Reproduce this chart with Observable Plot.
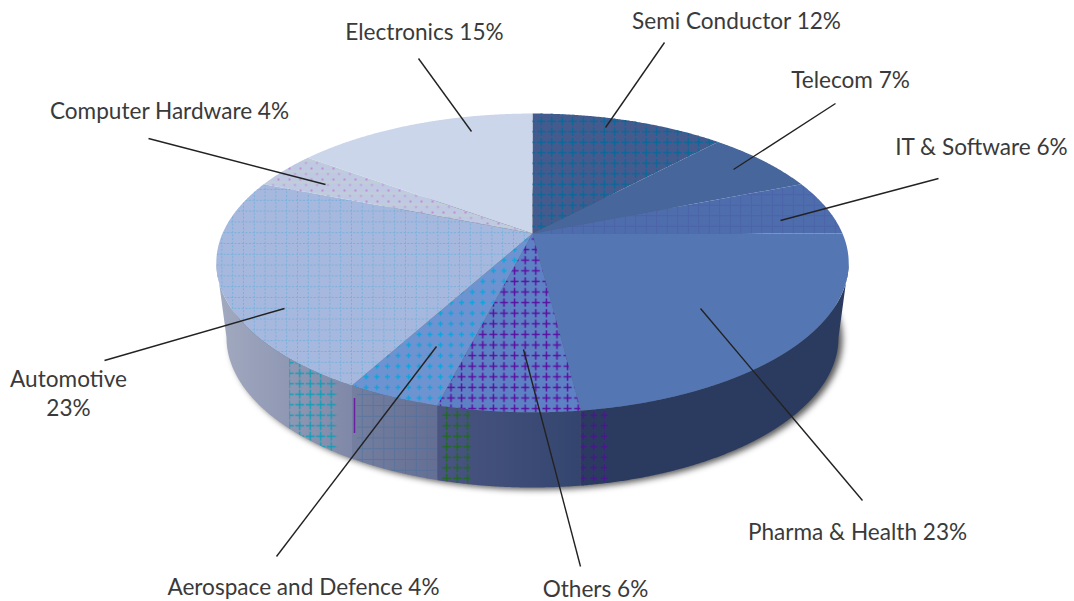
<!DOCTYPE html>
<html>
<head>
<meta charset="utf-8">
<style>html,body{margin:0;background:#fff}svg{display:block}</style>
<script src="https://cdn.jsdelivr.net/npm/d3@7"></script>
<script src="https://cdn.jsdelivr.net/npm/@observablehq/plot@0.6"></script>
</head>
<body>
<div id="chart"></div>
<script>
// Industry shares, clockwise from twelve o'clock
const sectors = ["Semi Conductor", "Telecom", "IT & Software", "Pharma & Health", "Others",
  "Aerospace and Defence", "Automotive", "Computer Hardware", "Electronics"];
const shares = [12, 7, 6, 23, 6, 4, 23, 4, 15];

// Face colours and printed textures for each sector
const faceColors = ["#455b8e", "#47679c", "#4e6dad", "#5477b4", "#5d81c4", "#6d93d1", "#a6b8dd", "#bfc9e1", "#ccd6ea"];
const faceTextures = ["crossTeal", null, "gridIndigo", null, "crossPurple", "dashCyan", "gridCyan", "dotsMagenta", null];
const wallFills = {"Pharma & Health": "#2b3b60", "Others": "url(#wallOthers)",
  "Aerospace and Defence": "url(#wallAero)", "Automotive": "url(#wallAuto)"};

// Texture patches printed on the rim: sector, horizontal extent, texture
const rimPatches = [
  ["Automotive", 288, 338, "crossTealWall"],
  ["Aerospace and Defence", 356, 440, "gridBlueWall"],
  ["Others", 440, 470, "crossGreenWall"],
  ["Pharma & Health", 578, 612, "crossPurpleWall"]
];

// Callouts: leader from slice to label, and label centre
const callouts = [
  {sector: "Semi Conductor", from: [605, 127], to: [664, 42], at: [736, 19], sep: " "},
  {sector: "Telecom", from: [733, 169], to: [835, 103], at: [850, 78], sep: " "},
  {sector: "IT & Software", from: [780, 220], to: [938, 178], at: [981, 145], sep: " "},
  {sector: "Pharma & Health", from: [700, 308], to: [862, 500], at: [857, 530], sep: " "},
  {sector: "Others", from: [523, 349], to: [580, 566], at: [595, 587], sep: " "},
  {sector: "Aerospace and Defence", from: [436, 346], to: [276, 556], at: [303, 585], sep: " "},
  {sector: "Automotive", from: [284, 308], to: [104, 360], at: [68, 392], sep: "\n"},
  {sector: "Computer Hardware", from: [325, 184], to: [148, 138], at: [169, 109], sep: " "},
  {sector: "Electronics", from: [471, 131], to: [418, 58], at: [424, 30], sep: " "}
];

// Perspective disc: the hub sits above the centre of the projected ellipse
const hub = {x: 532, y: 233};
const spreadX = 310, spreadY = 143.6, tilt = 0.197;
const rim = {cx: 532, cy: 337, rx: 306, ry: 150};

function project(deg) {
  const a = deg * Math.PI / 180, X = Math.sin(a), Y = Math.cos(a), d = 1 + tilt * Y;
  return {x: hub.x + spreadX * X / d, y: hub.y - spreadY * Y / d};
}
const sweep = (a0, a1, step = 0.25) => d3.range(a0, a1, step).concat(a1);
const rimY = (x) => rim.cy + rim.ry * Math.sqrt(Math.max(0, 1 - ((x - rim.cx) / rim.rx) ** 2));

const total = d3.sum(shares);
const cumulative = d3.cumsum(shares);
const angles = sectors.map((name, i) => ({
  name,
  a0: (i ? cumulative[i - 1] : 0) / total * 360,
  a1: cumulative[i] / total * 360
}));

// The rim is visible only between the two widest points of the ellipse
const rimStart = 90 + Math.asin(0.194) * 180 / Math.PI, rimEnd = 360 - rimStart;

function wall(a0, a1) {
  const top = sweep(Math.max(a0, rimStart), Math.min(a1, rimEnd)).map(project);
  const bottom = top.map(({x}) => {
    const bx = Math.max(rim.cx - rim.rx, Math.min(rim.cx + rim.rx, x));
    return {x: bx, y: rimY(bx)};
  });
  return top.concat(bottom.reverse());
}
const face = (a0, a1) => [hub, ...sweep(a0, a1).map(project)];
const wallOf = (name) => {
  const s = angles.find((d) => d.name === name);
  return wall(s.a0, s.a1);
};

const polygon = (points, fill, extra = {}) =>
  Plot.line(points, {x: "x", y: "y", fill, stroke: "none", ...extra});

const shadow = d3.range(0, 360, 1).map((deg) => {
  const a = deg * Math.PI / 180;
  return {x: rim.cx + 4 + rim.rx * Math.sin(a), y: rim.cy + 2 + rim.ry * Math.cos(a)};
});

const chart = Plot.plot({
  width: 1074,
  height: 601,
  margin: 0,
  x: {domain: [0, 1074], range: [0, 1074], axis: null},
  y: {domain: [0, 601], range: [0, 601], axis: null},
  marks: [
    polygon(shadow, "#111", {imageFilter: "blur(3px)", fillOpacity: 0.7}),
    // Rim segments
    ...Object.keys(wallFills).map((name) => polygon(wallOf(name), wallFills[name])),
    ...rimPatches.map(([name, x0, x1, tex]) =>
      polygon(wallOf(name).filter((p) => p.x >= x0 && p.x <= x1), `url(#${tex})`)),
    Plot.ruleX([354], {y1: 398, y2: 433, stroke: "#6a1fa0", strokeWidth: 1.5}),
    // Top face
    ...angles.map((s, i) => polygon(face(s.a0, s.a1), faceColors[i])),
    ...angles.flatMap((s, i) => faceTextures[i] ? [polygon(face(s.a0, s.a1), `url(#${faceTextures[i]})`)] : []),
    // Leaders and labels
    Plot.link(callouts, {
      x1: (d) => d.from[0], y1: (d) => d.from[1],
      x2: (d) => d.to[0], y2: (d) => d.to[1],
      stroke: "#222", strokeWidth: 1.4
    }),
    Plot.text(callouts, {
      x: (d) => d.at[0], y: (d) => d.at[1],
      text: (d) => `${d.sector}${d.sep}${shares[sectors.indexOf(d.sector)]}%`,
      fontFamily: "Lato", fontSize: 22.6, fill: "#3a3a3a", lineHeight: 1.28, textAnchor: "middle"
    })
  ]
});

// Printed textures and rim shading
const cross = (size, c, w, arm, op = 1) => {
  const m = size / 2;
  return `<path d="M${m - arm} ${m}H${m + arm}M${m} ${m - arm}V${m + arm}" stroke="${c}" stroke-width="${w}" opacity="${op}" fill="none"/>`;
};
const tile = (id, size, body) =>
  `<pattern id="${id}" width="${size}" height="${size}" patternUnits="userSpaceOnUse">${body}</pattern>`;
const grid = (size, c, w, op, dash = "none") =>
  `<path d="M0 ${size / 2}H${size}M${size / 2} 0V${size}" stroke="${c}" stroke-width="${w}" opacity="${op}" stroke-dasharray="${dash}" fill="none"/>`;
const ramp = (id, a, b) =>
  `<linearGradient id="${id}" x1="0" x2="1" y1="0" y2="0"><stop offset="0" stop-color="${a}"/><stop offset="1" stop-color="${b}"/></linearGradient>`;

d3.select(chart).insert("defs", ":first-child").html([
  tile("crossTeal", 10.5, cross(10.5, "#06699a", 1.4, 4.4)),
  tile("crossPurple", 10.6, cross(10.6, "#5a0fa0", 1.5, 4)),
  tile("crossTealWall", 10.5, cross(10.5, "#0e9fb8", 1.4, 4.5)),
  tile("crossGreenWall", 10.5, cross(10.5, "#1f6a1e", 1.5, 4.5)),
  tile("crossPurpleWall", 10.5, cross(10.5, "#4b1490", 1.4, 3.5)),
  tile("gridIndigo", 10.5, grid(10.5, "#4a55a6", 1, 0.5)),
  tile("gridCyan", 10.8, grid(10.8, "#35a8dc", 1, 0.45, "2 1.6")),
  tile("gridBlueWall", 10.8, grid(10.8, "#3f6f9f", 1, 0.45)),
  tile("dashCyan", 10.6, cross(10.6, "#0ea4dc", 1.4, 2.6)),
  tile("dotsMagenta", 11, `<circle cx="3" cy="3" r="0.9" fill="#c070d0"/><circle cx="8.5" cy="8.5" r="0.9" fill="#c070d0" opacity="0.7"/><path d="M0 6H11" stroke="#c5d8c5" stroke-width="1" opacity="0.6"/>`),
  ramp("wallAuto", "#a2aac0", "#7f88a8"),
  ramp("wallAero", "#757f9f", "#656f94"),
  ramp("wallOthers", "#4a5582", "#33456e")
].join(""));

document.getElementById("chart").append(chart);
</script>
</body>
</html>
